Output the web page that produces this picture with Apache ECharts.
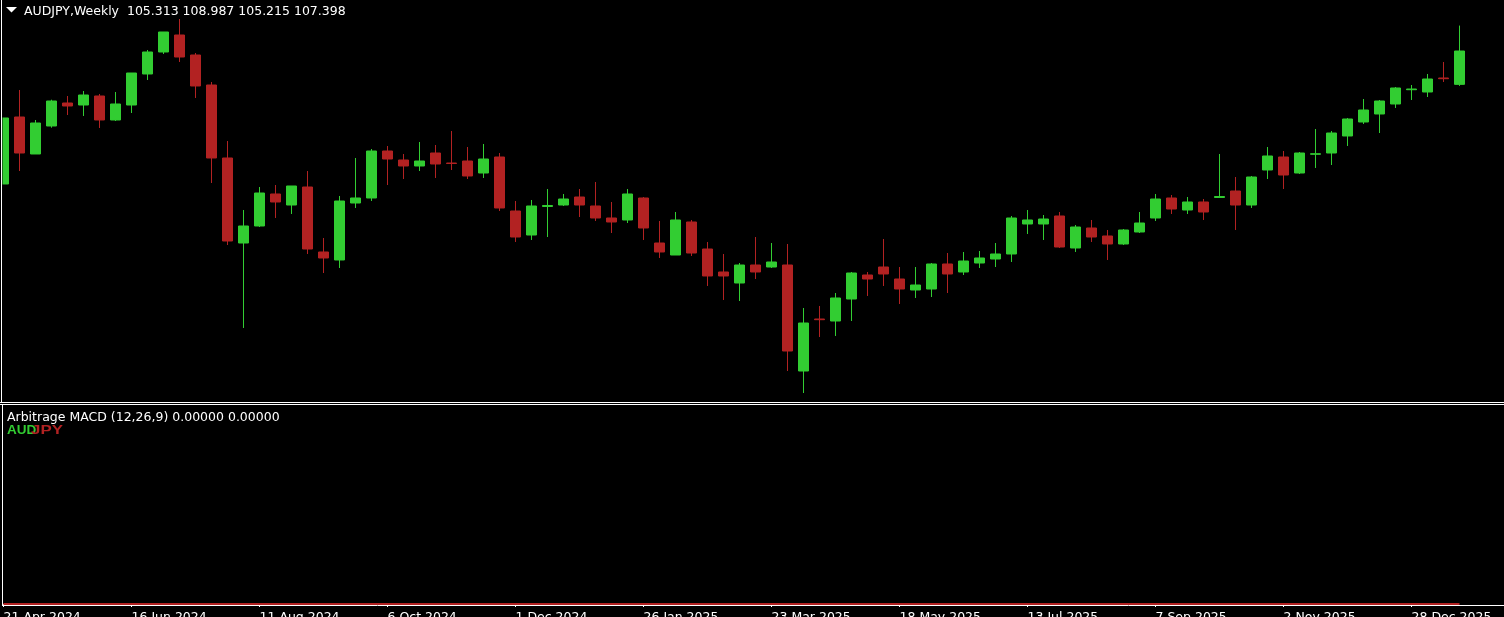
<!DOCTYPE html>
<html><head><meta charset="utf-8">
<style>html,body{margin:0;padding:0;background:#000;overflow:hidden}#c{width:1504px;height:617px}</style>
<script src="https://cdn.jsdelivr.net/npm/echarts@6/dist/echarts.min.js"></script>
</head><body><div id="c"></div>
<script>
// Weekly bars (week start dates)
const weeks = [
'21 Apr 2024','28 Apr 2024','5 May 2024','12 May 2024','19 May 2024','26 May 2024','2 Jun 2024','9 Jun 2024',
'16 Jun 2024','23 Jun 2024','30 Jun 2024','7 Jul 2024','14 Jul 2024','21 Jul 2024','28 Jul 2024','4 Aug 2024',
'11 Aug 2024','18 Aug 2024','25 Aug 2024','1 Sep 2024','8 Sep 2024','15 Sep 2024','22 Sep 2024','29 Sep 2024',
'6 Oct 2024','13 Oct 2024','20 Oct 2024','27 Oct 2024','3 Nov 2024','10 Nov 2024','17 Nov 2024','24 Nov 2024',
'1 Dec 2024','8 Dec 2024','15 Dec 2024','22 Dec 2024','29 Dec 2024','5 Jan 2025','12 Jan 2025','19 Jan 2025',
'26 Jan 2025','2 Feb 2025','9 Feb 2025','16 Feb 2025','23 Feb 2025','2 Mar 2025','9 Mar 2025','16 Mar 2025',
'23 Mar 2025','30 Mar 2025','6 Apr 2025','13 Apr 2025','20 Apr 2025','27 Apr 2025','4 May 2025','11 May 2025',
'18 May 2025','25 May 2025','1 Jun 2025','8 Jun 2025','15 Jun 2025','22 Jun 2025','29 Jun 2025','6 Jul 2025',
'13 Jul 2025','20 Jul 2025','27 Jul 2025','3 Aug 2025','10 Aug 2025','17 Aug 2025','24 Aug 2025','31 Aug 2025',
'7 Sep 2025','14 Sep 2025','21 Sep 2025','28 Sep 2025','5 Oct 2025','12 Oct 2025','19 Oct 2025','26 Oct 2025',
'2 Nov 2025','9 Nov 2025','16 Nov 2025','23 Nov 2025','30 Nov 2025','7 Dec 2025','14 Dec 2025','21 Dec 2025',
'28 Dec 2025','4 Jan 2026','11 Jan 2026','18 Jan 2026'
];
const openP = [
99.086,103.273,100.961,102.711,104.148,104.023,104.586,103.086,104.023,105.961,
107.336,108.398,107.148,105.273,100.711,95.398,96.461,98.461,97.773,98.898,
94.836,94.336,97.898,98.211,101.148,100.586,100.211,101.023,100.398,100.523,
99.773,100.773,97.398,95.898,97.680,97.773,98.273,97.711,96.961,96.836,
98.211,95.398,94.648,96.711,95.023,93.586,92.898,94.023,93.898,94.023,
87.398,90.648,90.523,91.898,93.398,93.898,93.148,92.461,92.523,94.086,
93.586,94.148,94.398,94.711,96.586,96.586,97.086,95.086,96.336,95.836,
95.336,96.086,96.961,98.211,97.461,97.961,98.242,98.648,97.773,99.961,
100.773,99.773,100.942,101.023,102.086,102.961,103.461,104.086,104.979,104.836,
105.711,105.313
];
const closeP = [
103.211,101.023,102.898,104.273,103.961,104.648,103.086,104.086,106.023,107.336,
108.586,107.023,105.211,100.711,95.523,96.461,98.523,97.961,98.961,95.023,
94.461,98.023,98.211,101.148,100.648,100.211,100.523,100.336,100.367,99.586,
100.648,97.586,95.773,97.711,97.742,98.148,97.773,96.961,96.711,98.461,
96.336,94.836,96.836,94.773,93.336,93.336,94.023,93.586,94.211,88.648,
90.398,90.605,91.961,93.523,93.148,93.461,92.523,92.773,94.086,93.461,
94.273,94.461,94.711,96.961,96.836,96.898,95.148,96.398,95.773,95.336,
96.211,96.648,98.148,97.523,97.961,97.336,98.304,97.773,99.523,100.836,
99.648,101.023,100.979,102.273,103.148,103.711,104.273,105.086,105.023,105.648,
105.667,107.398
];
const highP = [
103.211,104.961,103.086,104.354,104.586,104.898,104.711,104.836,106.023,107.461,
108.586,109.398,107.273,105.461,101.773,97.461,98.898,99.023,98.961,99.898,
95.711,98.336,100.711,101.273,101.461,100.961,101.711,101.523,102.398,101.398,
101.586,101.023,98.023,98.086,98.773,98.461,98.773,99.211,97.961,98.773,
98.273,96.773,97.336,96.836,95.461,94.711,94.148,95.773,95.398,95.336,
91.336,91.461,92.273,93.586,93.586,95.648,93.898,93.898,94.148,94.773,
94.836,94.898,95.398,97.086,97.461,97.148,97.336,96.523,96.836,96.211,
96.273,97.336,98.461,98.398,98.273,98.148,100.961,99.523,99.586,101.398,
101.148,101.086,102.523,102.398,103.211,104.398,104.336,105.148,105.273,105.961,
106.711,108.987
];
const lowP = [
99.086,99.898,100.961,102.604,103.398,103.336,102.586,103.023,103.523,105.586,
107.211,106.711,104.461,99.148,95.273,90.086,96.398,96.961,97.211,94.711,
93.523,93.836,97.586,98.023,99.023,99.398,99.898,99.461,99.961,99.398,
99.461,97.398,95.461,95.586,95.773,97.711,97.023,96.773,96.023,96.648,
95.586,94.461,94.648,94.586,92.711,91.836,91.773,93.148,93.836,87.398,
86.023,89.523,89.586,90.523,92.086,92.711,91.586,91.961,92.023,92.273,
93.398,93.836,93.898,94.211,95.961,95.586,95.086,94.836,95.461,94.336,
95.273,96.023,96.773,97.211,97.211,96.836,98.211,96.211,97.586,99.398,
98.773,99.711,100.086,100.273,101.461,102.836,102.273,103.836,104.336,104.523,
105.461,105.215
];
// Arbitrage MACD values (all zero)
const macdMain = [
0,0,0,0,0,0,0,0,0,0,0,0,0,0,0,0,0,0,0,0,0,0,0,0,0,0,0,0,0,0,
0,0,0,0,0,0,0,0,0,0,0,0,0,0,0,0,0,0,0,0,0,0,0,0,0,0,0,0,0,0,
0,0,0,0,0,0,0,0,0,0,0,0,0,0,0,0,0,0,0,0,0,0,0,0,0,0,0,0,0,0,
0,0
];
const headerText = 'AUDJPY,Weekly  105.313 108.987 105.215 107.398';
const indicatorText = 'Arbitrage MACD (12,26,9) 0.00000 0.00000';
const baseText = 'AUD', quoteText = 'JPY';

const UP = '#32CD32', DOWN = '#B22222';
const candleData = weeks.map((w, i) => [openP[i], closeP[i], lowP[i], highP[i]]);

const chart = echarts.init(document.getElementById('c'), null, {renderer: 'canvas', width: 1504, height: 617});
chart.setOption({
  backgroundColor: '#000000',
  animation: false,
  grid: [
    {left: -4.5, top: 0, width: 1472, height: 402, outerBoundsMode: 'none', containLabel: false},
    {left: -4.5, top: 405, width: 1472, height: 199, outerBoundsMode: 'none', containLabel: false}
  ],
  xAxis: [
    {type: 'category', gridIndex: 0, data: weeks, boundaryGap: true, show: false},
    {type: 'category', gridIndex: 1, data: weeks, boundaryGap: true, offset: 1.5,
     axisLine: {show: false},
     axisTick: {show: true, interval: 7, alignWithLabel: true, length: 3, lineStyle: {color: '#ffffff', width: 1}},
     axisLabel: {interval: 7, align: 'left', color: '#ffffff', fontFamily: 'DejaVu Sans', fontSize: 12.5, margin: 6},
     splitLine: {show: false}}
  ],
  yAxis: [
    {type: 'value', gridIndex: 0, min: 85.4605, max: 110.5855, show: false, splitLine: {show: false}},
    {type: 'value', gridIndex: 1, min: 0, max: 1, show: false, splitLine: {show: false}}
  ],
  series: [
    {type: 'candlestick', xAxisIndex: 0, yAxisIndex: 0, data: candleData, barWidth: 10,
     itemStyle: {color: UP, color0: DOWN, borderColor: UP, borderColor0: DOWN, borderWidth: 1}},
    {type: 'line', xAxisIndex: 1, yAxisIndex: 1, data: macdMain, symbol: 'none', clip: false,
     lineStyle: {color: DOWN, width: 2}}
  ],
  graphic: [
    {type: 'rect', z: 100, shape: {x: 0, y: 0, width: 2.5, height: 402}, style: {fill: '#000'}},
    {type: 'line', z: 101, shape: {x1: 1.5, y1: 0, x2: 1.5, y2: 402}, style: {stroke: '#fff', lineWidth: 1}},
    {type: 'line', z: 101, shape: {x1: 0, y1: 402.5, x2: 1504, y2: 402.5}, style: {stroke: '#fff', lineWidth: 1}},
    {type: 'line', z: 101, shape: {x1: 0, y1: 404.5, x2: 1504, y2: 404.5}, style: {stroke: '#fff', lineWidth: 1}},
    {type: 'line', z: 101, shape: {x1: 2.5, y1: 404, x2: 2.5, y2: 606}, style: {stroke: '#fff', lineWidth: 1}},
    {type: 'line', z: 101, shape: {x1: 2, y1: 605.5, x2: 1504, y2: 605.5}, style: {stroke: '#fff', lineWidth: 1}},
    {type: 'polygon', z: 101, shape: {points: [[6, 7], [17, 7], [11.5, 12.5]]}, style: {fill: '#fff'}},
    {type: 'text', z: 101, x: 24, y: 5.5, style: {text: headerText, fill: '#fff', font: '12.5px "DejaVu Sans"', verticalAlign: 'top'}},
    {type: 'text', z: 101, x: 7, y: 411, style: {text: indicatorText, fill: '#fff', font: '12.5px "DejaVu Sans"', verticalAlign: 'top'}},
    {type: 'text', z: 101, x: 7, y: 423.5, style: {text: baseText, fill: UP, font: 'bold 13.5px "Liberation Sans"', verticalAlign: 'top'}},
    {type: 'text', z: 102, x: 31, y: 423.5, scaleX: 1.25, style: {text: quoteText, fill: DOWN, font: 'bold 13.5px "Liberation Sans"', verticalAlign: 'top'}}
  ]
});
</script>
</body></html>
